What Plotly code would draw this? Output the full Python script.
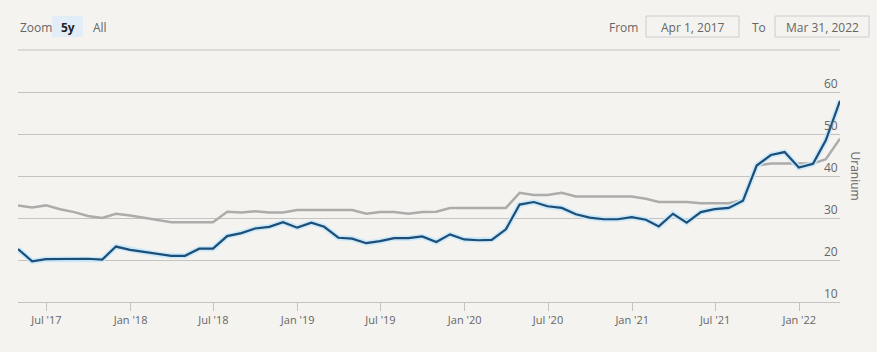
import pandas as pd
import plotly.graph_objects as go

# Month-end dates, Apr 2017 .. Mar 2022
dates = pd.date_range("2017-04-30", "2022-03-31", freq="ME")

uranium_spot = [
    22.6, 19.7, 20.2, 20.2, 20.2, 20.3, 20.1, 23.2, 22.4, 21.9,
    21.4, 21.0, 21.0, 22.7, 22.7, 25.7, 26.4, 27.5, 27.9, 29.0,
    27.7, 28.9, 27.9, 25.3, 25.1, 24.0, 24.5, 25.2, 25.2, 25.6,
    24.3, 26.1, 24.9, 24.7, 24.8, 27.3, 33.2, 33.8, 32.8, 32.4,
    30.9, 30.1, 29.7, 29.7, 30.2, 29.6, 28.0, 31.0, 28.9, 31.4,
    32.1, 32.4, 34.1, 42.5, 45.0, 45.7, 42.0, 42.9, 48.5, 57.9,
]
uranium_other = [
    33.0, 32.5, 33.0, 32.1, 31.4, 30.5, 30.0, 31.0, 30.6, 30.0,
    29.5, 29.0, 29.0, 29.0, 29.0, 31.5, 31.3, 31.6, 31.3, 31.3,
    31.9, 31.9, 31.9, 31.9, 31.9, 31.0, 31.4, 31.4, 31.0, 31.4,
    31.5, 32.4, 32.4, 32.4, 32.4, 32.4, 36.0, 35.5, 35.5, 36.0,
    35.1, 35.1, 35.1, 35.1, 35.1, 34.6, 33.8, 33.8, 33.8, 33.5,
    33.5, 33.5, 34.3, 42.5, 43.0, 43.0, 42.9, 43.0, 44.0, 48.9,
]

y_ticks = [10, 20, 30, 40, 50, 60, 70]
y_labels = ["10", "20", "30", "40", "50", "60", ""]
y_max = 70
zoom_buttons = ["5y", "All"]
from_text = "Apr 1, 2017"
to_text = "Mar 31, 2022"

BG = "#f4f3ef"
GRID = "#c4c3bf"
TXT = "#666666"
FONT = "Open Sans"

fig = go.Figure()
fig.add_trace(go.Scatter(x=dates, y=uranium_other, mode="lines",
                         line=dict(color="#acacab", width=2.5), hoverinfo="skip"))
fig.add_trace(go.Scatter(x=dates, y=uranium_spot, mode="lines",
                         line=dict(color="rgba(200,232,250,0.9)", width=5.5), hoverinfo="skip"))
fig.add_trace(go.Scatter(x=dates, y=uranium_spot, mode="lines",
                         line=dict(color="#1c4e78", width=2.2), hoverinfo="skip"))

fig.update_layout(
    width=877, height=352,
    margin=dict(l=18, r=37, t=50, b=50),
    paper_bgcolor=BG, plot_bgcolor=BG,
    showlegend=False,
    font=dict(family=FONT, size=11, color=TXT),
    xaxis=dict(
        range=[dates[0], dates[-1]],
        tick0="2017-07-01", dtick="M6", tickformat="%b '%y",
        ticks="outside", ticklen=8, tickcolor=GRID, tickwidth=1,
        showgrid=False, showline=True, linecolor=GRID, linewidth=1,
        zeroline=False, tickfont=dict(size=11, color=TXT),
    ),
    yaxis=dict(
        range=[10, y_max], side="right",
        tickmode="array", tickvals=y_ticks, showticklabels=False,
        showgrid=True, gridcolor=GRID, gridwidth=1,
        zeroline=False, showline=False, ticks="",
    ),
)

# top gridline at the range edge
fig.add_shape(type="line", xref="paper", yref="paper", x0=0, x1=1, y0=1, y1=1,
              line=dict(color=GRID, width=1))

# y tick labels above gridlines, right-aligned
for v, lab in zip(y_ticks, y_labels):
    if lab:
        fig.add_annotation(text=lab, xref="paper", yref="y", x=1, y=v,
                           xanchor="right", yanchor="bottom", xshift=0, yshift=-2,
                           showarrow=False, font=dict(size=12, color=TXT))

# axis title "Uranium"
fig.add_annotation(text="Uranium", xref="paper", yref="paper", x=1, y=0.5,
                   xshift=26, textangle=90, showarrow=False,
                   font=dict(size=12, color=TXT, family=FONT))

# Range selector look-alike
fig.add_annotation(text="Zoom", xref="paper", yref="paper", x=0, y=1,
                   xanchor="left", yanchor="middle", xshift=0, yshift=23,
                   showarrow=False, font=dict(size=12, color=TXT))
fig.add_shape(type="rect", xref="paper", yref="paper",
              x0=(52 - 18) / 822, x1=(83 - 18) / 822,
              y0=1 + 13 / 252, y1=1 + 34 / 252,
              fillcolor="#e3edf7", line=dict(width=0), layer="below")
fig.add_annotation(text="<b>" + zoom_buttons[0] + "</b>", xref="paper", yref="paper",
                   x=(67.5 - 18) / 822, y=1, xanchor="center", yanchor="middle",
                   yshift=23, showarrow=False, font=dict(size=12, color="#222222"))
fig.add_annotation(text=zoom_buttons[1], xref="paper", yref="paper",
                   x=(99.5 - 18) / 822, y=1, xanchor="center", yanchor="middle",
                   yshift=23, showarrow=False, font=dict(size=12, color=TXT))

# From / To inputs
fig.add_annotation(text="From", xref="paper", yref="paper",
                   x=(623 - 18) / 822, y=1, xanchor="center", yanchor="middle",
                   yshift=23, showarrow=False, font=dict(size=12, color=TXT))
fig.add_shape(type="rect", xref="paper", yref="paper",
              x0=(646 - 18) / 822, x1=(739 - 18) / 822,
              y0=1 + 13 / 252, y1=1 + 34 / 252,
              fillcolor=BG, line=dict(color="#cccccc", width=1))
fig.add_annotation(text=from_text, xref="paper", yref="paper",
                   x=(692.5 - 18) / 822, y=1, xanchor="center", yanchor="middle",
                   yshift=23, showarrow=False, font=dict(size=12, color=TXT))
fig.add_annotation(text="To", xref="paper", yref="paper",
                   x=(759 - 18) / 822, y=1, xanchor="center", yanchor="middle",
                   yshift=23, showarrow=False, font=dict(size=12, color=TXT))
fig.add_shape(type="rect", xref="paper", yref="paper",
              x0=(775 - 18) / 822, x1=(869 - 18) / 822,
              y0=1 + 13 / 252, y1=1 + 34 / 252,
              fillcolor=BG, line=dict(color="#cccccc", width=1))
fig.add_annotation(text=to_text, xref="paper", yref="paper",
                   x=(822 - 18) / 822, y=1, xanchor="center", yanchor="middle",
                   yshift=23, showarrow=False, font=dict(size=12, color=TXT))

fig.write_html("out.html")
